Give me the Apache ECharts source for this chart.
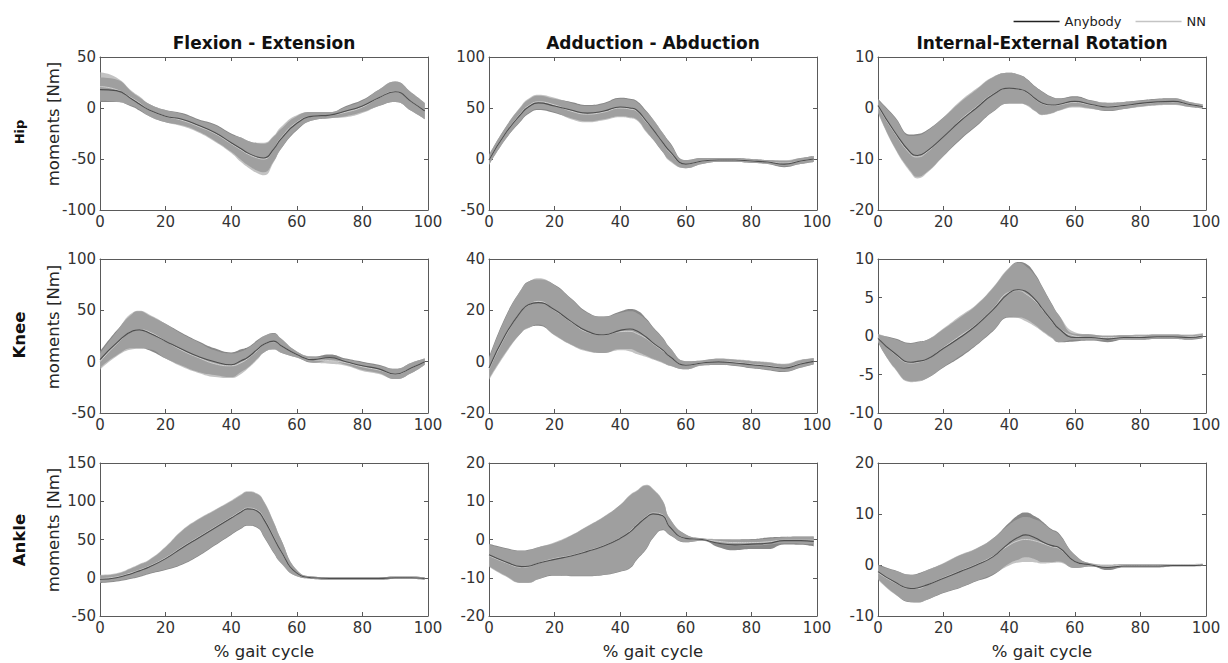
<!DOCTYPE html>
<html><head><meta charset="utf-8">
<script src="https://cdn.jsdelivr.net/npm/echarts@6/dist/echarts.min.js"></script>
<style>html,body{margin:0;padding:0;background:#fff}#c{width:1228px;height:663px}</style>
</head><body><div id="c"></div>
<script>
// ---------- data ----------
const pct = [0,5,10,12,15,20,25,30,35,40,43,45,48,50,53,55,60,65,70,75,80,85,90,95,99];

const hipFE_anyMean = [18,17,8,4,-2,-8,-11,-17,-24,-34,-40,-44,-48,-49,-40,-31,-15,-8,-7,-3,2,10,16,6,-3];
const hipFE_anySd   = [12,11,7,6.5,6,6,6,6,8,9,11,12,13.5,14,12,10,7,4,3,5,6,8,10,9,8];
const hipFE_nnMean  = [21,18,9,5,-2,-8,-12,-18,-25,-35,-41,-45,-49,-50,-40,-30,-14,-8,-7,-4,1,10,16,6,-3];
const hipFE_nnSd    = [14,12,7,6.5,6,6,6,6,8,9,12,13,15,16,13,11,7,4,3,5,6,8,10,9,8];

const hipAA_anyMean = [-1,25,45,51,55,52,48,45,47,51,50,48,37,29,16,8,-5,-2,-1,-1,-2,-3,-5,-2,0];
const hipAA_anySd   = [5,6,7,7,7,7,8,8,8,9,9,9,10,10,9.5,9,4,3,2,2,2,2,3,3,3];
const hipAA_nnMean  = [-1,25,46,52,56,53,47,44,46,50,49,47,36,29,16,7,-5,-2,-1,-1,-2,-3,-4,-2,0];
const hipAA_nnSd    = [5,6,7,7,7,7,8,8,8,9,9,9,10,10,9.5,9,4,3,2,2,2,2,3,3,3];

const hipIE_anyMean = [0.5,-4.6,-8.8,-9.3,-8.4,-5.6,-2.6,0,2.6,3.9,3.7,3.3,1.8,1.0,0.6,0.7,1.3,0.7,0.2,0.5,0.9,1.2,1.3,0.7,0.3];
const hipIE_anySd   = [1.3,3.0,3.6,4.2,4.1,3.8,3.7,3.6,3.4,3.0,2.8,2.6,2.4,2.3,1.6,1.2,1.0,0.8,0.8,0.7,0.6,0.6,0.6,0.5,0.4];
const hipIE_nnMean  = [0.3,-4.8,-9.1,-9.6,-8.6,-5.6,-2.4,0.2,2.7,3.9,3.7,3.2,1.7,0.9,0.5,0.6,1.1,0.6,0.3,0.5,0.8,1.1,1.2,0.7,0.4];
const hipIE_nnSd    = [1.3,3.0,3.6,4.2,4.1,3.8,3.7,3.6,3.4,3.0,2.8,2.6,2.4,2.3,1.6,1.2,1.0,0.8,0.8,0.7,0.6,0.6,0.6,0.5,0.4];

const kneeFE_anyMean = [2,18,30,31,28,20,12,5,0,-3,1,4,12,17,20,16,7,2,4,0,-4,-7,-12,-6,0];
const kneeFE_anySd   = [8,12,17,18,17,17,16,15,13,12,11,10,9,8,8,7,3,3,3,3,4,4,5,5,3];
const kneeFE_nnMean  = [0,17,30,31,29,20,11,4,-2,-4,-1,3,11,17,19.5,16,7,2,1,-1,-5,-8,-12,-6,0];
const kneeFE_nnSd    = [8,12,18,18.5,17,17,16,15,13,12,11,10,9,8,8,7,3,3,3,3,4,4,5,5,3];

const kneeAA_anyMean = [-2.5,10.5,20,22.2,23,20.2,15.7,11.8,10.5,12.2,12.7,12,9.5,7.3,4.5,2.1,-1.4,-0.5,-0.1,-0.5,-1.2,-1.8,-2.5,-0.9,0.1];
const kneeAA_anySd   = [4.2,7,8.5,9,9,9.8,9,7.5,7.1,7.3,7.8,8,7.2,6.2,4.8,3.6,1.6,1,1.2,1.2,1.4,1.5,1.5,1.5,1.2];
const kneeAA_nnMean  = [-3,10,20,22,23.5,20,15.5,11.5,10.5,11.7,11.8,11,9,7,4.2,2,-1.4,-0.5,0,-0.3,-1,-1.6,-2.3,-0.8,0.2];
const kneeAA_nnSd    = [4.2,7,8.5,9,9,9.8,9,7.5,7.1,7.3,7.8,8,7.2,6.2,4.8,3.6,1.6,1,1.2,1.2,1.4,1.5,1.5,1.5,1.2];

const kneeIE_anyMean = [-0.3,-2.2,-3.4,-3.3,-3.0,-1.6,-0.2,1.4,3.4,5.6,6.0,5.8,4.7,3.6,2.0,1.0,-0.2,-0.2,-0.4,-0.2,-0.2,-0.1,-0.1,-0.2,0];
const kneeIE_anySd   = [0.5,1.9,2.5,2.55,2.5,2.5,2.6,2.6,2.8,3.2,3.6,3.6,3.3,2.9,2.2,1.8,0.5,0.4,0.4,0.3,0.3,0.3,0.3,0.3,0.3];
const kneeIE_nnMean  = [-0.2,-2.3,-3.5,-3.4,-3.0,-1.5,0,1.5,3.5,5.7,5.9,5.5,4.5,3.5,1.9,1.0,0,-0.2,-0.2,-0.2,-0.1,-0.1,-0.1,-0.1,0.1];
const kneeIE_nnSd    = [0.5,1.9,2.5,2.55,2.5,2.5,2.6,2.6,2.8,3.2,3.6,3.6,3.3,2.9,2.2,1.8,0.5,0.4,0.3,0.3,0.3,0.3,0.3,0.3,0.3];

const ankleFE_anyMean = [-2,0,6,9,14,25,39,52,65,78,86,90,87,76,52,36,6,0,-1,-1,-1,-1,0,0,-1];
const ankleFE_anySd   = [5,5,7,8,9,15,22,24,23,22,22,22,22,23,20,16,4,1.5,1.5,1.5,1.5,1.5,1.5,1.5,1.5];
const ankleFE_nnMean  = [-1,1,7,10,15,26,40,53,66,79,87,91,88,77,53,36,6,0,-1,-1,-1,-1,0,0,-1];
const ankleFE_nnSd    = [5,5,7,8,9,15,22,24,23,22,22,22,22,23,20,16,4,1.5,1.5,1.5,1.5,1.5,1.5,1.5,1.5];

const ankleAA_anyMean = [-4,-5.8,-7.1,-7.0,-6.2,-5.2,-4.3,-3.1,-1.7,0.3,2.0,3.6,5.8,6.7,6.2,3.4,0.3,0,-1,-1.4,-1.2,-1,-0.3,-0.3,-0.5];
const ankleAA_anySd   = [2.9,3.6,4.2,4.3,4.2,4.3,5.3,6.5,7.6,8.7,9.5,9.0,8.3,6.4,3.8,2.2,1.0,0.3,1.0,1.4,1.3,1.5,1.0,1.1,1.3];
const ankleAA_nnMean  = [-4.2,-6,-7.2,-7.1,-6.2,-5,-4.2,-3,-1.6,0.4,2.2,3.8,6.0,6.9,6.4,3.5,0.3,0,-0.5,-0.8,-0.8,-0.6,-0.2,-0.2,-0.2];
const ankleAA_nnSd    = [2.9,3.6,4.2,4.3,4.2,4.3,5.3,6.5,7.6,8.7,9.5,9.0,8.3,6.4,3.8,2.2,1.0,0.3,0.6,0.8,0.8,0.8,0.8,0.9,1.0];

const ankleIE_anyMean = [-1.3,-3.3,-4.6,-4.5,-3.9,-2.6,-1.3,0,1.6,4.3,5.5,5.9,5.3,4.6,3.8,3.5,0.7,0,-0.5,-0.2,-0.2,-0.2,-0.1,-0.1,0];
const ankleIE_anySd   = [1.4,2.3,2.7,2.8,2.9,2.9,3.2,3.2,3.6,4.0,4.4,4.4,4.2,4.0,3.2,2.8,1.3,0.3,0.5,0.3,0.3,0.3,0.2,0.2,0.2];
const ankleIE_nnMean  = [-1.5,-3.4,-4.6,-4.6,-3.9,-2.5,-1.2,0.1,1.7,3.9,4.8,5.0,4.7,4.3,3.6,3.3,0.7,0,-0.2,-0.1,-0.1,-0.1,0,0,0.1];
const ankleIE_nnSd    = [1.4,2.3,2.7,2.8,2.9,2.9,3.2,3.2,3.5,4.0,4.3,4.4,4.2,4.0,3.2,2.8,1.3,0.3,0.3,0.3,0.3,0.3,0.2,0.2,0.2];

const colTitles = ['Flexion - Extension','Adduction - Abduction','Internal-External Rotation'];
const rowTitles = ['Hip','Knee','Ankle'];
const yMin = [-100,-50,-20, -50,-20,-10, -50,-20,-10];
const yMax = [50,100,10, 100,40,10, 150,20,20];
const yStep = [50,50,10, 50,20,5, 50,10,10];
const xTicks = [0,100,20];
const yLabel = 'moments [Nm]';
const xLabel = '% gait cycle';

// ---------- chart ----------
const FONT = '"DejaVu Sans", Verdana, sans-serif';
const panels = [
  [hipFE_anyMean,hipFE_anySd,hipFE_nnMean,hipFE_nnSd],
  [hipAA_anyMean,hipAA_anySd,hipAA_nnMean,hipAA_nnSd],
  [hipIE_anyMean,hipIE_anySd,hipIE_nnMean,hipIE_nnSd],
  [kneeFE_anyMean,kneeFE_anySd,kneeFE_nnMean,kneeFE_nnSd],
  [kneeAA_anyMean,kneeAA_anySd,kneeAA_nnMean,kneeAA_nnSd],
  [kneeIE_anyMean,kneeIE_anySd,kneeIE_nnMean,kneeIE_nnSd],
  [ankleFE_anyMean,ankleFE_anySd,ankleFE_nnMean,ankleFE_nnSd],
  [ankleAA_anyMean,ankleAA_anySd,ankleAA_nnMean,ankleAA_nnSd],
  [ankleIE_anyMean,ankleIE_anySd,ankleIE_nnMean,ankleIE_nnSd]
];
const colLeft = [100,489,878], rowTop = [57,259,463], rowH = [153,154,153], W = 328;
const AXC = '#5a5a5a';
const SMOOTH = 0.5;

// band = lower edge (invisible) + stacked span (filled); value dimension first so the y value is stacked
function bandSeries(mean, sd, fill, xi, yi, key){
  const common = {type:'line', xAxisIndex:xi, yAxisIndex:yi, stack:key, stackStrategy:'all',
    encode:{x:1, y:0}, smooth:SMOOTH, symbol:'none', showSymbol:false, silent:true,
    lineStyle:{width:0,opacity:0}};
  const low = Object.assign({}, common, {name:key+' low', data:pct.map((x,k)=>[mean[k]-sd[k], x])});
  const span = Object.assign({}, common, {name:key+' band', data:pct.map((x,k)=>[2*sd[k], x]),
    areaStyle:{color:fill, opacity:1}});
  return [low, span];
}
function meanLine(mean, color, w, xi, yi, name){
  return {type:'line', name:name, xAxisIndex:xi, yAxisIndex:yi, data:pct.map((x,k)=>[x,mean[k]]),
    smooth:SMOOTH, symbol:'none', showSymbol:false, lineStyle:{color:color,width:w}, itemStyle:{color:color}, silent:true};
}

const grid=[], xAxis=[], yAxis=[], series=[];
panels.forEach((p,i)=>{
  const r=Math.floor(i/3), c=i%3;
  grid.push({left:colLeft[c], top:rowTop[r], width:W, height:rowH[r], show:false});
  const axLine={show:true,onZero:false,lineStyle:{color:AXC,width:1}};
  const tick={show:true,inside:true,length:4,lineStyle:{color:AXC,width:1}};
  const lbl={color:'#333',fontSize:15,fontFamily:FONT,margin:4};
  xAxis.push({type:'value',gridIndex:i,min:xTicks[0],max:xTicks[1],interval:xTicks[2],axisLine:axLine,axisTick:tick,axisLabel:lbl,splitLine:{show:false}});
  xAxis.push({type:'value',gridIndex:i,position:'top',min:xTicks[0],max:xTicks[1],interval:xTicks[2],axisLine:axLine,axisTick:tick,axisLabel:{show:false},splitLine:{show:false}});
  yAxis.push({type:'value',gridIndex:i,min:yMin[i],max:yMax[i],interval:yStep[i],axisLine:axLine,axisTick:tick,axisLabel:lbl,splitLine:{show:false}});
  yAxis.push({type:'value',gridIndex:i,position:'right',min:yMin[i],max:yMax[i],interval:yStep[i],axisLine:axLine,axisTick:tick,axisLabel:{show:false},splitLine:{show:false}});
  const xi=2*i, yi=2*i;
  series.push(...bandSeries(p[0],p[1],'#888888',xi,yi,'any'+i));
  series.push(...bandSeries(p[2],p[3],'rgba(170,170,170,0.7)',xi,yi,'nn'+i));
  series.push(meanLine(p[2],'#d0d0d0',1,xi,yi,'NN'));
  series.push(meanLine(p[0],'#4e4e4e',1.1,xi,yi,'Anybody'));
});

const graphic=[];
colTitles.forEach((t,c)=>{
  graphic.push({type:'text',x:colLeft[c]+W/2,y:43,style:{text:t,font:'bold 17px '+FONT,fill:'#111',textAlign:'center',textVerticalAlign:'middle'}});
  graphic.push({type:'text',x:colLeft[c]+W/2,y:651,style:{text:xLabel,font:'16.5px '+FONT,fill:'#262626',textAlign:'center',textVerticalAlign:'middle'}});
});
const rowLabelY=[132,335,540], rowLabelSize=[13,16.5,16.5], yNameY=[124,327,530];
rowTitles.forEach((t,r)=>{
  graphic.push({type:'text',x:19,y:rowLabelY[r],rotation:Math.PI/2,style:{text:t,font:'bold '+rowLabelSize[r]+'px '+FONT,fill:'#111',textAlign:'center',textVerticalAlign:'middle'}});
  graphic.push({type:'text',x:53,y:yNameY[r],rotation:Math.PI/2,style:{text:yLabel,font:'16.5px '+FONT,fill:'#262626',textAlign:'center',textVerticalAlign:'middle'}});
});

const LINE_ICON = 'path://M0,0 L46,0 L46,1.5 L0,1.5 Z';
const chart = echarts.init(document.getElementById('c'), null, {renderer:'svg'});
chart.setOption({
  animation:false,
  backgroundColor:'#fff',
  grid:grid, xAxis:xAxis, yAxis:yAxis, series:series, graphic:graphic,
  legend:{data:[{name:'Anybody',icon:LINE_ICON,itemStyle:{color:'#222'}},
                {name:'NN',icon:LINE_ICON,itemStyle:{color:'#c4c4c4'}}],
    right:17, top:10, itemWidth:46, itemHeight:14, itemGap:14, selectedMode:false,
    textStyle:{fontSize:13,color:'#222',fontFamily:FONT}}
});
</script></body></html>
